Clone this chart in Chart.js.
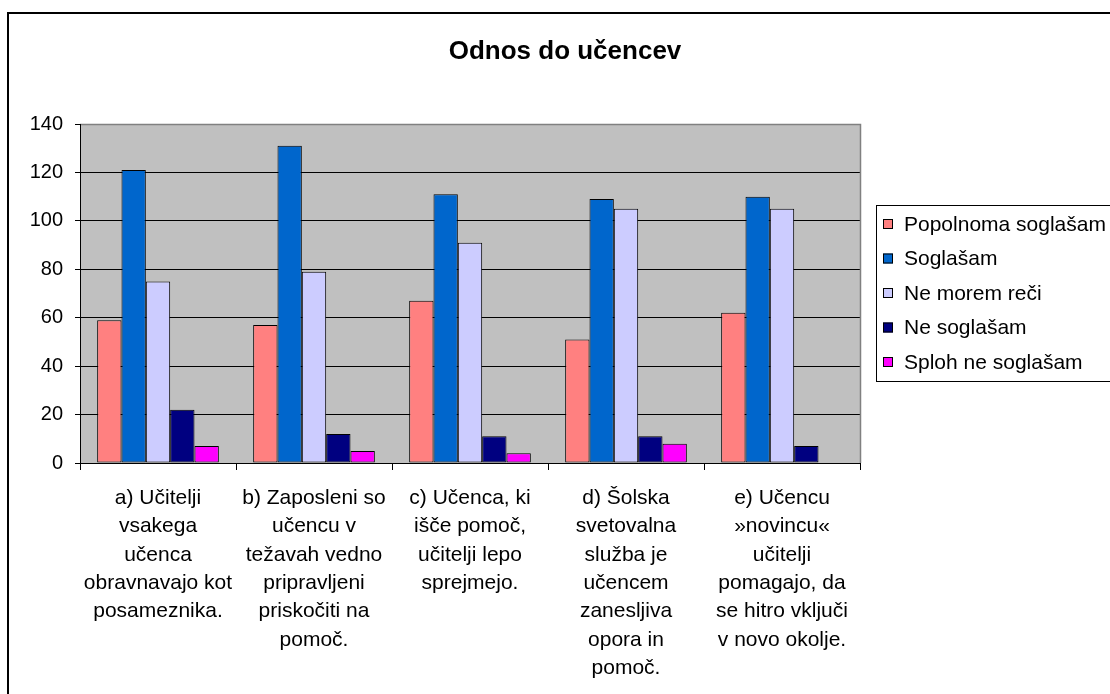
<!DOCTYPE html>
<html>
<head>
<meta charset="utf-8">
<script src="https://cdn.jsdelivr.net/npm/chart.js@4.4.1/dist/chart.umd.min.js"></script>
<style>
  body { margin: 0; background: #fff; }
  #wrap { width: 1110px; height: 694px; }
</style>
</head>
<body>
<div id="wrap"><canvas id="chart" width="1110" height="694"></canvas></div>
<script>
// chart data
const chartTitle = "Odnos do učencev";
const categories = [
    ["a) Učitelji", "vsakega", "učenca", "obravnavajo kot", "posameznika."],
    ["b) Zaposleni so", "učencu v", "težavah vedno", "pripravljeni", "priskočiti na", "pomoč."],
    ["c) Učenca, ki", "išče pomoč,", "učitelji lepo", "sprejmejo."],
    ["d) Šolska", "svetovalna", "služba je", "učencem", "zanesljiva", "opora in", "pomoč."],
    ["e) Učencu", "»novincu«", "učitelji", "pomagajo, da", "se hitro vključi", "v novo okolje."]
];
const seriesNames = ["Popolnoma soglašam", "Soglašam", "Ne morem reči", "Ne soglašam", "Sploh ne soglašam"];
const popolnoma = [59, 57, 67, 51, 62];
const soglasam = [121, 131, 111, 109, 110];
const neMorem = [75, 79, 91, 105, 105];
const neSoglasam = [22, 12, 11, 11, 7];
const splohNe = [7, 5, 4, 8, 0];
const yTicks = [0, 20, 40, 60, 80, 100, 120, 140];

const colors = ["#FF8080", "#0066CC", "#CCCCFF", "#000080", "#FF00FF"];
const allSeries = [popolnoma, soglasam, neMorem, neSoglasam, splohNe];

const FONT = "Arial, 'Liberation Sans', sans-serif";

// frame, plot background, title and legend
const decor = {
    id: "decor",
    beforeDraw(chart) {
        const ctx = chart.ctx;
        const a = chart.chartArea;
        ctx.save();
        ctx.fillStyle = "#fff";
        ctx.fillRect(0, 0, chart.width, chart.height);
        ctx.fillStyle = "#C0C0C0";
        ctx.fillRect(a.left, a.top, a.right - a.left, a.bottom - a.top);
        ctx.restore();
    },
    afterDatasetsDraw(chart) {
        const ctx = chart.ctx;
        const a = chart.chartArea;
        ctx.save();
        // plot border (gray top/right)
        ctx.strokeStyle = "#808080";
        ctx.lineWidth = 1.5;
        ctx.beginPath();
        ctx.moveTo(a.left, a.top + 0.5);
        ctx.lineTo(a.right + 0.5, a.top + 0.5);
        ctx.lineTo(a.right + 0.5, a.bottom);
        ctx.stroke();
        // axes
        ctx.strokeStyle = "#000";
        ctx.lineWidth = 1;
        ctx.beginPath();
        ctx.moveTo(a.left + 0.5, a.top);
        ctx.lineTo(a.left + 0.5, a.bottom + 0.5);
        ctx.lineTo(a.right, a.bottom + 0.5);
        ctx.stroke();

        // outer frame
        ctx.lineWidth = 2;
        ctx.strokeRect(8, 13, 1110, 700);

        // title
        ctx.fillStyle = "#000";
        ctx.font = "bold 26px " + FONT;
        ctx.textAlign = "center";
        ctx.textBaseline = "middle";
        ctx.fillText(chartTitle, 565, 52);

        // legend
        const lx = 876, ly = 205, lw = 240, lh = 176;
        ctx.lineWidth = 1;
        ctx.strokeStyle = "#000";
        ctx.fillStyle = "#fff";
        ctx.fillRect(lx, ly, lw, lh);
        ctx.strokeRect(lx + 0.5, ly + 0.5, lw, lh);
        ctx.font = "21px " + FONT;
        ctx.textAlign = "left";
        chart.data.datasets.forEach((ds, i) => {
            const y = ly + 19 + i * 34.5;
            ctx.fillStyle = ds.backgroundColor;
            ctx.fillRect(lx + 7, y - 5, 10, 10);
            ctx.strokeRect(lx + 7.5, y - 4.5, 9, 9);
            ctx.fillStyle = "#000";
            ctx.fillText(ds.label, lx + 28, y + 1);
        });
        ctx.restore();
    }
};

new Chart(document.getElementById("chart"), {
    type: "bar",
    data: {
        labels: categories,
        datasets: seriesNames.map((name, i) => ({
            label: name,
            data: allSeries[i],
            backgroundColor: colors[i],
            borderColor: "#000",
            borderWidth: 1,
            borderSkipped: false,
            categoryPercentage: 0.78,
            barPercentage: 1
        }))
    },
    options: {
        responsive: false,
        animation: false,
        layout: { padding: { left: 0, top: 124, right: 250, bottom: 0 } },
        plugins: {
            legend: { display: false },
            title: { display: false },
            tooltip: { enabled: false }
        },
        scales: {
            x: {
                afterFit(scale) { scale.height = 231; },
                grid: {
                    offset: true,
                    drawOnChartArea: false,
                    drawTicks: true,
                    tickLength: 7,
                    color: "#000"
                },
                border: { display: false },
                ticks: {
                    color: "#000",
                    font: { family: FONT, size: 21, lineHeight: 1.35 },
                    maxRotation: 0,
                    minRotation: 0,
                    autoSkip: false,
                    padding: 14
                }
            },
            y: {
                min: 0,
                max: 140,
                afterFit(scale) { scale.width = 80; },
                afterBuildTicks(scale) { scale.ticks = yTicks.map(v => ({ value: v })); },
                grid: {
                    color: "#000",
                    lineWidth: 1,
                    drawTicks: true,
                    tickLength: 5
                },
                border: { display: false },
                ticks: {
                    color: "#000",
                    font: { family: FONT, size: 20 },
                    padding: 12
                }
            }
        }
    },
    plugins: [decor]
});
</script>
</body>
</html>
